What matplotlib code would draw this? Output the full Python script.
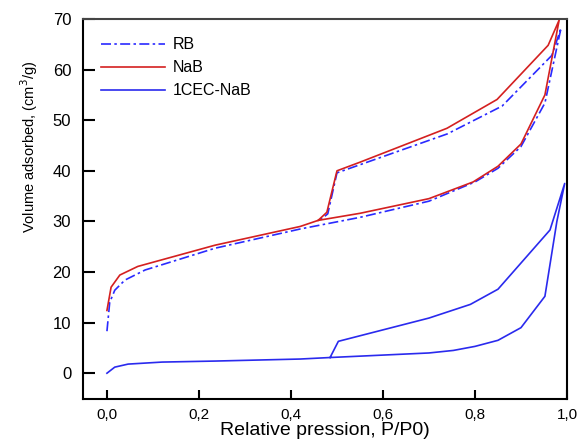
import matplotlib.pyplot as plt
from matplotlib.ticker import FuncFormatter

# ---------------------------------------------------------------------
# DATA (read off the reference isotherms)
# ---------------------------------------------------------------------
rb_x = [0.0, 0.006, 0.017, 0.039, 0.083, 0.235, 0.42, 0.55, 0.7, 0.8, 0.85, 0.9, 0.952, 0.987,
        0.967, 0.859, 0.74, 0.55, 0.5, 0.48, 0.46]
rb_y = [8.3, 14.0, 16.4, 18.4, 20.4, 24.7, 28.5, 30.8, 34.0, 37.8, 40.5, 44.8, 53.4, 68.2,
        62.8, 52.8, 47.3, 41.2, 39.6, 31.5, 30.0]

nab_x = [0.0, 0.009, 0.028, 0.067, 0.235, 0.42, 0.459, 0.55, 0.7, 0.796, 0.85, 0.9, 0.952, 0.983,
         0.959, 0.848, 0.739, 0.55, 0.5, 0.478, 0.459]
nab_y = [12.4, 17.0, 19.4, 21.1, 25.3, 29.0, 30.2, 31.6, 34.5, 37.8, 40.9, 45.3, 55.0, 69.8,
         64.8, 54.1, 48.4, 41.7, 40.0, 31.8, 30.2]

cec_x = [0.0, 0.017, 0.046, 0.12, 0.235, 0.42, 0.485, 0.70, 0.753, 0.80, 0.85, 0.90, 0.952, 0.978, 0.995,
         0.963, 0.85, 0.79, 0.70, 0.503, 0.485]
cec_y = [0.0, 1.2, 1.8, 2.2, 2.4, 2.8, 3.1, 4.0, 4.5, 5.3, 6.5, 9.0, 15.2, 30.0, 37.5,
         28.3, 16.6, 13.6, 10.9, 6.3, 3.1]

x_ticks = [0.0, 0.2, 0.4, 0.6, 0.8, 1.0]
y_ticks = [0, 10, 20, 30, 40, 50, 60, 70]

# ---------------------------------------------------------------------
# PLOT
# ---------------------------------------------------------------------
plt.rcParams['font.family'] = ['Liberation Sans', 'DejaVu Sans']

fig = plt.figure(figsize=(5.81, 4.43), dpi=100)
ax = fig.add_axes([0.1429, 0.0993, 0.833, 0.8578])

ax.plot(rb_x, rb_y, color='#2a2aff', lw=1.2, ls=(0, (6, 2, 1.5, 2)), label='RB')
ax.plot(nab_x, nab_y, color='#d42020', lw=1.2, label='NaB')
ax.plot(cec_x, cec_y, color='#2a2aee', lw=1.2, label='1CEC-NaB')

ax.set_xlim(-0.052, 1.0)
ax.set_ylim(-5.1, 70)
ax.set_xticks(x_ticks)
ax.set_yticks(y_ticks)
ax.xaxis.set_major_formatter(FuncFormatter(lambda v, p: f"{v:.1f}".replace('.', ',')))
ax.tick_params(axis='x', direction='in', length=6.5, width=1.5, labelsize=11, pad=6.5)
ax.tick_params(axis='y', direction='in', length=8.5, width=1.5, labelsize=12, pad=8.5)

for s in ax.spines.values():
    s.set_linewidth(1.5)
ax.spines['top'].set_color('#444444')

ax.set_xlabel("Relative pression, P/P0)", fontsize=14, labelpad=0)
ax.set_ylabel("Volume adsorbed, (cm$^3$/g)", fontsize=10.5)
ax.yaxis.set_label_coords(-0.088, 0.665)

ax.legend(loc='upper left', frameon=False, fontsize=11.5, handlelength=4.0,
          handletextpad=0.45, labelspacing=0.5, borderaxespad=0.75)

fig.savefig("out.png", dpi=100)
